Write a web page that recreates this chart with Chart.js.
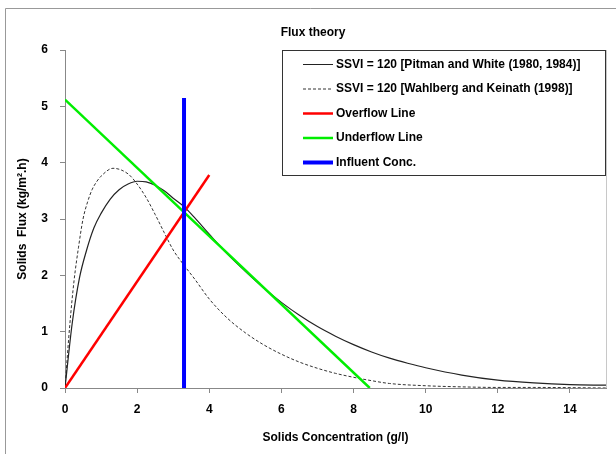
<!DOCTYPE html>
<html>
<head>
<meta charset="utf-8">
<script src="https://cdn.jsdelivr.net/npm/chart.js@4.4.0/dist/chart.umd.min.js"></script>
<style>
  html, body { margin: 0; padding: 0; background: #fff; }
  #wrap { width: 616px; height: 454px; position: relative; }
</style>
</head>
<body>
<div id="wrap"><canvas id="chart" width="616" height="454"></canvas></div>
<script>
const FONT = "'Liberation Sans', Arial, Helvetica, sans-serif";

// legend / series names
const seriesNames = [
  'SSVI = 120 [Pitman and White (1980, 1984)]',
  'SSVI = 120 [Wahlberg and Keinath (1998)]',
  'Overflow Line',
  'Underflow Line',
  'Influent Conc.'
];

// Pitman and White flux curve
const pitmanConc = [0, 0.2, 0.4, 0.6, 0.8, 1, 1.25, 1.5, 1.75, 2, 2.25, 2.5, 2.75, 3, 3.3, 3.6, 4, 4.5, 5, 5.5, 6, 6.5, 7, 7.5, 8, 8.5, 9, 9.5, 10, 11, 12, 13, 14, 15];
const pitmanFlux = [0, 1.15, 1.95, 2.45, 2.84, 3.1, 3.35, 3.52, 3.62, 3.67, 3.66, 3.6, 3.5, 3.37, 3.22, 3.02, 2.73, 2.38, 2.07, 1.78, 1.52, 1.29, 1.09, 0.92, 0.77, 0.64, 0.53, 0.44, 0.36, 0.23, 0.14, 0.09, 0.06, 0.05];

// Wahlberg and Keinath flux curve
const wahlbergConc = [0, 0.13, 0.25, 0.375, 0.5, 0.625, 0.75, 0.875, 1, 1.33, 1.75, 2, 2.25, 2.5, 2.75, 3, 3.3, 3.6, 4, 4.5, 5, 5.5, 6, 6.5, 7, 7.5, 8, 8.5, 9, 10, 11, 12, 13, 15];
const wahlbergFlux = [0, 1.1, 1.9, 2.5, 3.0, 3.3, 3.52, 3.66, 3.76, 3.9, 3.8, 3.62, 3.38, 3.08, 2.76, 2.45, 2.18, 1.93, 1.58, 1.24, 0.98, 0.77, 0.6, 0.46, 0.35, 0.26, 0.19, 0.13, 0.08, 0.04, 0.02, 0.01, 0.01, 0];

const overflowConc = [0, 4];
const overflowFlux = [0, 3.78];
const underflowConc = [0, 8.45];
const underflowFlux = [5.12, 0];
const influentConc = [3.3, 3.3];
const influentFlux = [0, 5.15];

const xTicks = [0, 2, 4, 6, 8, 10, 12, 14];
const yTicks = [0, 1, 2, 3, 4, 5, 6];

const toPoints = (xs, ys) => xs.map((x, i) => ({ x: x, y: ys[i] }));

const seriesColors = ['#222', '#333', '#ff0000', '#00ee00', '#0000ff'];
const seriesWidths = [1.2, 1, 2.5, 2.5, 4];
const seriesDash = [[], [3, 2], [], [], []];

// frame, title, right border and the boxed legend
const decorations = {
  id: 'decorations',
  beforeDraw(chart) {
    const c = chart.ctx;
    c.save();
    c.fillStyle = '#fff';
    c.fillRect(0, 0, chart.width, chart.height);
    c.strokeStyle = '#999';
    c.lineWidth = 1;
    c.beginPath();
    c.moveTo(5.5, chart.height);
    c.lineTo(5.5, 8.5);
    c.lineTo(chart.width, 8.5);
    c.stroke();
    c.restore();
  },
  afterDraw(chart) {
    const c = chart.ctx;
    const a = chart.chartArea;
    c.save();
    // right border of plot
    c.strokeStyle = '#c8c8c8';
    c.lineWidth = 1;
    c.beginPath();
    c.moveTo(Math.round(a.right) + 0.5, a.top);
    c.lineTo(Math.round(a.right) + 0.5, a.bottom);
    c.stroke();

    // title
    c.fillStyle = '#000';
    c.font = 'bold 12px ' + FONT;
    c.textAlign = 'center';
    c.textBaseline = 'middle';
    c.fillText('Flux theory', 313, 33);

    // legend box
    const bx = 282, by = 50, bw = 323, bh = 125;
    c.fillStyle = '#fff';
    c.fillRect(bx, by, bw, bh);
    c.strokeStyle = '#333';
    c.lineWidth = 1;
    c.strokeRect(bx + 0.5, by + 0.5, bw, bh);
    const rows = [64.5, 89, 113.5, 138, 162.5];
    seriesNames.forEach((name, i) => {
      const y = rows[i];
      c.strokeStyle = seriesColors[i];
      c.lineWidth = i < 2 ? 1 : seriesWidths[i];
      c.setLineDash(seriesDash[i]);
      c.beginPath();
      c.moveTo(303, y);
      c.lineTo(333, y);
      c.stroke();
      c.setLineDash([]);
      c.fillStyle = '#000';
      c.font = 'bold 12px ' + FONT;
      c.textAlign = 'left';
      c.textBaseline = 'middle';
      c.fillText(name, 336, y);
    });
    c.restore();
  }
};

const datasets = [
  { label: seriesNames[0], data: toPoints(pitmanConc, pitmanFlux), order: 2 },
  { label: seriesNames[1], data: toPoints(wahlbergConc, wahlbergFlux), order: 3 },
  { label: seriesNames[2], data: toPoints(overflowConc, overflowFlux), order: 1 },
  { label: seriesNames[3], data: toPoints(underflowConc, underflowFlux), order: 1 },
  { label: seriesNames[4], data: toPoints(influentConc, influentFlux), order: 0 }
].map((d, i) => Object.assign(d, {
  showLine: true,
  borderColor: seriesColors[i],
  backgroundColor: seriesColors[i],
  borderWidth: seriesWidths[i],
  borderDash: seriesDash[i],
  pointRadius: 0,
  cubicInterpolationMode: i < 2 ? 'monotone' : 'default',
  fill: false
}));

new Chart(document.getElementById('chart'), {
  type: 'scatter',
  data: { datasets: datasets },
  options: {
    responsive: false,
    animation: false,
    devicePixelRatio: 1,
    layout: { padding: { top: 50, right: 10, left: 0, bottom: 0 } },
    plugins: {
      legend: { display: false },
      tooltip: { enabled: false }
    },
    scales: {
      x: {
        type: 'linear',
        min: 0,
        max: 15,
        afterBuildTicks: s => { s.ticks = xTicks.map(v => ({ value: v })); },
        afterFit: s => { s.height = 66; },
        grid: { drawOnChartArea: false, drawTicks: true, tickLength: 5, color: '#888' },
        border: { color: '#888', width: 1 },
        ticks: { color: '#000', padding: 9, maxRotation: 0, font: { family: FONT, size: 12, weight: 'bold' } },
        title: {
          display: true,
          text: 'Solids Concentration (g/l)',
          color: '#000',
          font: { family: FONT, size: 12, weight: 'bold' },
          padding: { top: 0, bottom: 9 }
        }
      },
      y: {
        type: 'linear',
        min: 0,
        max: 6,
        afterBuildTicks: s => { s.ticks = yTicks.map(v => ({ value: v })); },
        afterFit: s => { s.width = 65; },
        grid: { drawOnChartArea: false, drawTicks: true, tickLength: 5, color: '#888' },
        border: { color: '#888', width: 1 },
        ticks: { color: '#000', padding: 12, font: { family: FONT, size: 12, weight: 'bold' } },
        title: {
          display: true,
          text: 'Solids  Flux (kg/m\u00b2.h)',
          color: '#000',
          font: { family: FONT, size: 12, weight: 'bold' },
          padding: { top: 15, bottom: 0 }
        }
      }
    }
  },
  plugins: [decorations]
});
</script>
</body>
</html>
